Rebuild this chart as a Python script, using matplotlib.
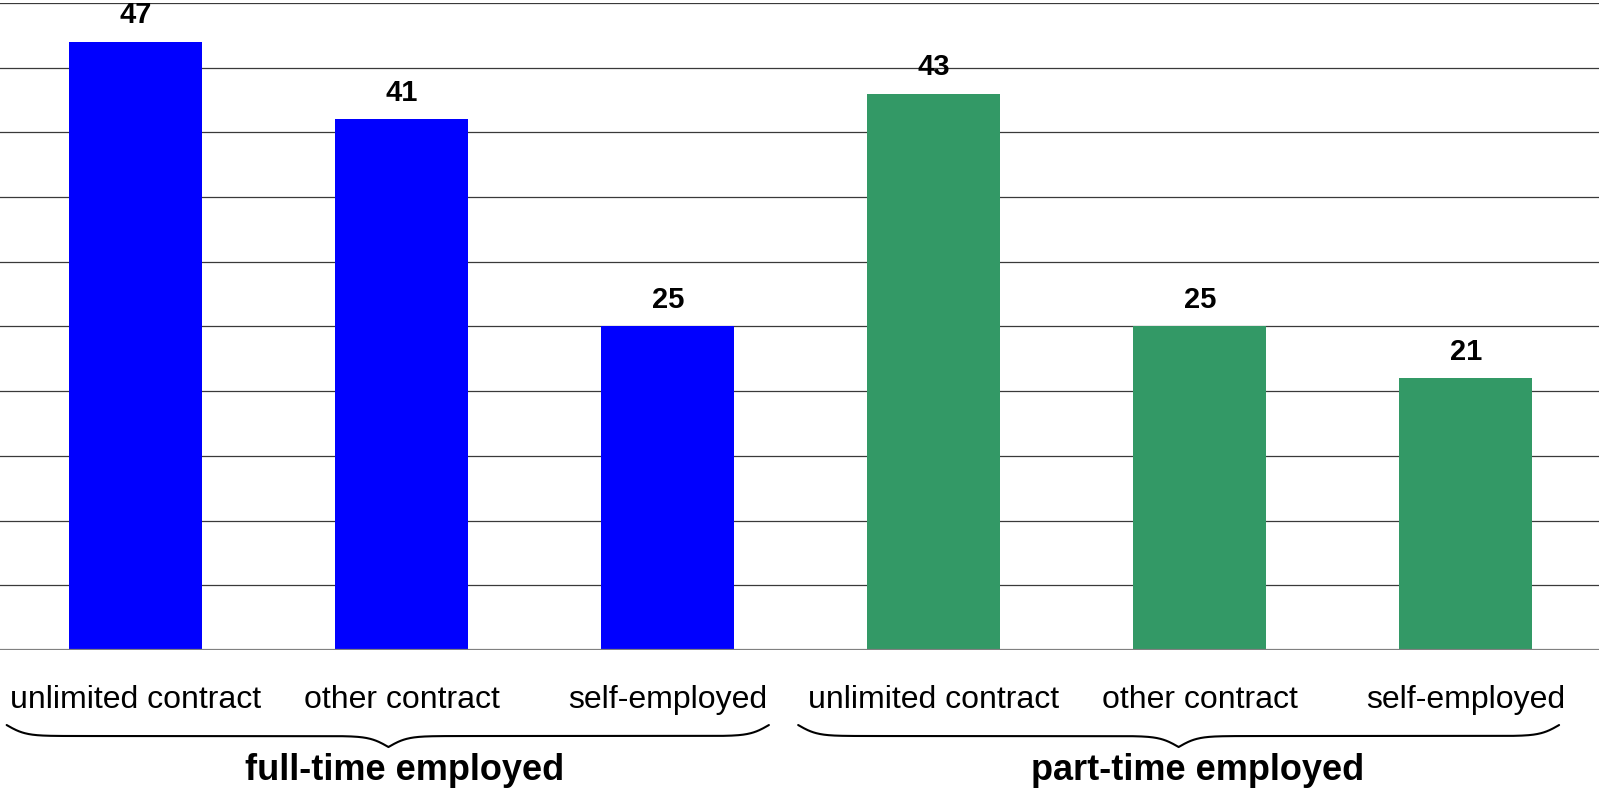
import numpy as np
import matplotlib.pyplot as plt
from matplotlib.transforms import blended_transform_factory

plt.rcParams['font.family'] = ['Liberation Sans', 'DejaVu Sans']

# shares by type of employment
groups = ['full-time employed', 'part-time employed']
categories = ['unlimited contract', 'other contract', 'self-employed']
full_time = [47, 41, 25]
part_time = [43, 25, 21]

colors = ['#0000ff', '#339966']

fig = plt.figure(figsize=(15.99, 7.89), dpi=100)
ax = fig.add_axes([0.0, 0.1762, 1.0, 0.8200])

x = np.arange(len(categories) * len(groups))
values = full_time + part_time
bar_colors = [colors[0]] * len(full_time) + [colors[1]] * len(part_time)

ax.set_axisbelow(True)
for yv in np.arange(5, 55, 5):
    ax.axhline(yv, color='#3a3a3a', lw=0.9, zorder=0)
ax.axhline(0, color='#808080', lw=1.6, zorder=3)

bars = ax.bar(x, values, width=0.5, color=bar_colors, zorder=2)
for b, v in zip(bars, values):
    ax.annotate(str(v), (b.get_x() + b.get_width() / 2, v),
                xytext=(0, 19), textcoords='offset points',
                ha='center', va='center', fontsize=21, fontweight='bold')

ax.set_xlim(-0.51, 5.5)
ax.set_ylim(0, 50)
ax.set_yticks([])
ax.set_xticks(x)
ax.set_xticklabels(categories * 2, fontsize=23)
ax.tick_params(axis='x', length=0, pad=25)
for s in ax.spines.values():
    s.set_visible(False)

trans = blended_transform_factory(ax.transData, ax.transAxes)


def sig(t):
    return 1 / (1 + np.exp(-t))


def brace(x0, x1, xm, y_top, h, beta=28):
    # curly brace opening upwards, tip pointing down at xm
    left = np.linspace(x0, xm, 400)
    right = np.linspace(xm, x1, 400)
    yl = sig(beta * (left - x0)) + sig(beta * (left - xm)) - 0.5
    yr = sig(-beta * (right - xm)) + sig(-beta * (right - x1)) - 0.5
    xs = np.concatenate([left, right])
    ys = np.concatenate([yl, yr])
    ax.plot(xs, y_top - h * ys, color='black', lw=1.5, transform=trans,
            clip_on=False, solid_capstyle='round')


brace(-0.485, 2.38, 0.95, -0.116, 0.034)
brace(2.49, 5.35, 3.92, -0.116, 0.034)

for gx, g in zip([1.01, 3.99], groups):
    ax.text(gx, -0.187, g, transform=trans, ha='center', va='center',
            fontsize=26, fontweight='bold')

fig.savefig('out.png', dpi=100)
